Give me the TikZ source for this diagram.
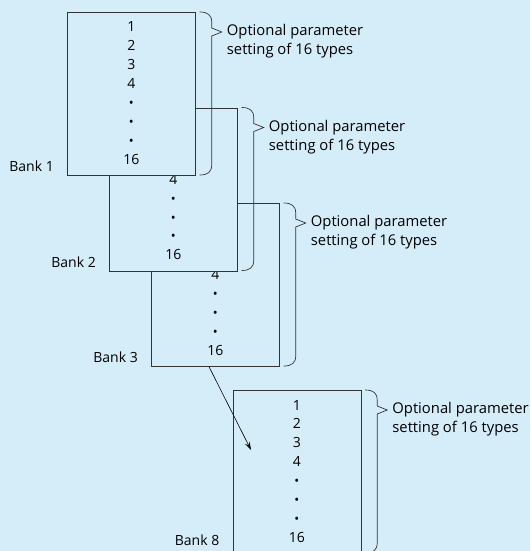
\documentclass[tikz,border=0pt]{standalone}
\usepackage{fontspec}
\setmainfont{Open Sans}
\usetikzlibrary{positioning,calc,arrows.meta}
\definecolor{bgblue}{RGB}{213,236,249}
\tikzset{
	bank/.style={draw=black!80, fill=bgblue, line width=0.7pt, minimum width=128pt, minimum height=163pt, inner sep=0pt, anchor=north west},
	num/.style={inner sep=0pt, text height=10pt, text depth=0pt},
	banklabel/.style={anchor=base east, inner sep=0pt},
	note/.style={align=left, anchor=west, inner sep=0pt, font=\fontsize{14.8}{19}\selectfont}
}
\newcommand{\vdot}{{\fontsize{13}{13}\selectfont •}}

\begin{document}
\begin{tikzpicture}[x=1pt, y=-1pt, font=\fontsize{14}{19}\selectfont]
	\fill[bgblue] (0,0) rectangle (530,551);
	\useasboundingbox (0,0) rectangle (530,551);
	\begin{scope}
	\clip (0,0) rectangle (530,551);
	%BANKS, back to front
	\foreach \b/\x/\y/\ly in {8/232.5/390/-8, 3/151/203/-4, 2/109/107.5/-4, 1/67/12/-4}{
		\node[bank] (b\b) at (\x,\y) {};
		\foreach \t [count=\k] in {1,2,3,4,\vdot,\vdot,\vdot,16}
			\node[num] (n\b-\k) at ($(b\b.north)+(0,15+18.9*\k-18.9)$) {\t};
		\node[banklabel] (l\b) at ($(b\b.south west)+(-13,\ly)$) {Bank \b};
	}
	%BRACES
	\foreach \b in {1,2,3,8}{
		\begin{scope}[shift={(b\b.north east)}]
			\draw[black!80, line width=0.7pt] (4,0) .. controls (12,0) and (16,3) .. (16,10) -- (16,16) -- (26,20) -- (16,24) -- (16,153) .. controls (16,160) and (12,163) .. (4,163);
			\node[note] (t\b) at (31,29.5) {Optional parameter\\setting of 16 types};
		\end{scope}
	}
	%ARROW to bank 8
	\coordinate (from) at ($(b3.south west)+(58,0)$);
	\coordinate (to) at ($(b8.north west)+(18.5,60)$);
	\draw[->, >={Stealth[length=8pt, width=5pt]}, line width=0.6pt] (from) -- (to);
	\end{scope}
\end{tikzpicture}
\end{document}
